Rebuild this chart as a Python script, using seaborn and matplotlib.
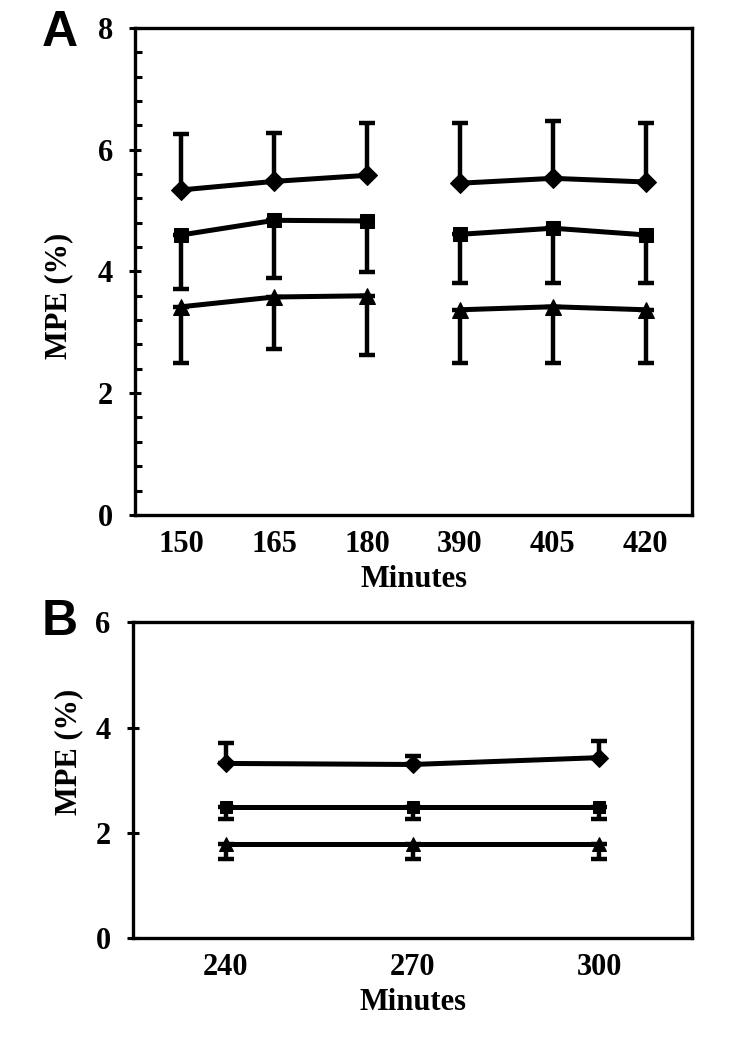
import pandas as pd
import matplotlib
matplotlib.use("Agg")
import matplotlib.pyplot as plt
import seaborn as sns
from matplotlib.ticker import MultipleLocator

# panel A data (MPE %)
times_a = ["150", "165", "180", "390", "405", "420"]
diamond_a = [5.34, 5.48, 5.58, 5.45, 5.53, 5.47]
diamond_a_upper = [6.26, 6.28, 6.44, 6.44, 6.47, 6.44]
square_a = [4.60, 4.84, 4.83, 4.61, 4.71, 4.60]
square_a_lower = [3.71, 3.89, 3.99, 3.81, 3.81, 3.81]
triangle_a = [3.42, 3.58, 3.60, 3.37, 3.42, 3.37]
triangle_a_lower = [2.50, 2.72, 2.63, 2.50, 2.50, 2.50]
segment_a = [0, 0, 0, 1, 1, 1]

# panel B data
times_b = ["240", "270", "300"]
diamond_b = [3.32, 3.30, 3.43]
diamond_b_upper = [3.70, 3.47, 3.74]
square_b = [2.49, 2.49, 2.49]
square_b_lower = [2.26, 2.26, 2.26]
triangle_b = [1.78, 1.78, 1.78]
triangle_b_lower = [1.50, 1.50, 1.50]
segment_b = [0, 0, 0]

sns.set_style("ticks", {"axes.edgecolor": "black", "text.color": "black",
                        "xtick.color": "black", "ytick.color": "black",
                        "axes.labelcolor": "black"})
plt.rcParams["font.family"] = ["Liberation Serif", "DejaVu Serif"]
plt.rcParams["font.weight"] = "bold"

fig = plt.figure(figsize=(7.5, 10.38), dpi=100)
ax_a = fig.add_axes([0.18, 0.504, 0.743, 0.469])
ax_b = fig.add_axes([0.177, 0.0963, 0.746, 0.304])


def draw_series(ax, times, vals, bound, segs, marker, msize, side):
    df = pd.DataFrame({"pos": range(len(times)), "val": vals, "seg": segs})
    sns.lineplot(data=df, x="pos", y="val", units="seg", estimator=None,
                 color="black", lw=3.6, marker=marker, markersize=msize,
                 markeredgecolor="black", markerfacecolor="black", ax=ax,
                 zorder=3)
    if side == "up":
        err = [[0] * len(vals), [b - v for b, v in zip(bound, vals)]]
    else:
        err = [[v - b for b, v in zip(bound, vals)], [0] * len(vals)]
    ax.errorbar(df["pos"], df["val"], yerr=err, fmt="none", ecolor="black",
                elinewidth=3.2, capsize=5.5, capthick=3.2, zorder=2)


draw_series(ax_a, times_a, diamond_a, diamond_a_upper, segment_a, "D", 10, "up")
draw_series(ax_a, times_a, square_a, square_a_lower, segment_a, "s", 10, "down")
draw_series(ax_a, times_a, triangle_a, triangle_a_lower, segment_a, "^", 11, "down")

draw_series(ax_b, times_b, diamond_b, diamond_b_upper, segment_b, "D", 9, "up")
draw_series(ax_b, times_b, square_b, square_b_lower, segment_b, "s", 9, "down")
draw_series(ax_b, times_b, triangle_b, triangle_b_lower, segment_b, "^", 10, "down")

for ax, times, ymax in [(ax_a, times_a, 8), (ax_b, times_b, 6)]:
    ax.set_xlim(-0.5, len(times) - 0.5)
    ax.set_ylim(0, ymax)
    ax.set_xticks(range(len(times)))
    ax.set_xticklabels(times)
    ax.yaxis.set_major_locator(MultipleLocator(2))
    ax.tick_params(axis="x", length=0, pad=11, labelsize=22)
    ax.tick_params(axis="y", which="major", direction="inout", length=8,
                   width=2.2, pad=12, labelsize=22)
    ax.set_xlabel("Minutes", fontsize=22, fontweight="bold", labelpad=4)
    ax.set_ylabel("MPE (%)", fontsize=22, fontweight="bold")
    for sp in ax.spines.values():
        sp.set_linewidth(2.4)
        sp.set_visible(True)

ax_a.yaxis.set_minor_locator(MultipleLocator(0.4))
ax_a.tick_params(axis="y", which="minor", direction="in", length=5, width=2.2)
ax_a.yaxis.set_label_coords(-0.11, 0.45)
ax_b.yaxis.set_label_coords(-0.088, 0.59)

fig.text(60 / 750, 1 - 33 / 1038, "A", fontsize=36, fontweight="bold",
         family="Liberation Sans", ha="center", va="center")
fig.text(60 / 750, 1 - 622 / 1038, "B", fontsize=36, fontweight="bold",
         family="Liberation Sans", ha="center", va="center")

fig.savefig("out.png", dpi=100)
